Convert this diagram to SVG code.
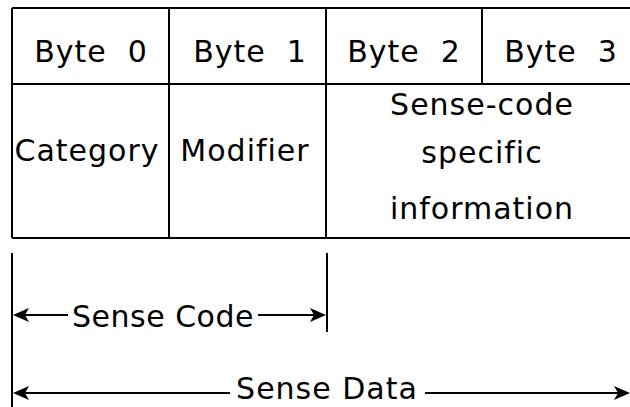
<svg xmlns="http://www.w3.org/2000/svg" width="630" height="407" viewBox="0 0 630 407">
<style>
  .ln{stroke:#000;stroke-width:2;fill:none}
  .ah{fill:#000;stroke:none}
  .t{font-family:"DejaVu Sans","Liberation Sans",sans-serif;font-size:30px;fill:#000;text-anchor:middle;letter-spacing:1px}
  .t2{letter-spacing:0.5px}
</style>
<defs>
  <path id="ahR" class="ah" d="M0,0 L-16,-7 L-12,0 L-16,7 Z"/>
  <path id="ahL" class="ah" d="M0,0 L16,-7 L12,0 L16,7 Z"/>
</defs>
<rect width="630" height="407" fill="#fff"/>
<g id="table">
  <path class="ln" d="M12,8 H640 M12,84 H640 M12,238 H640 M12,8 V238 M169,8 V238 M326,8 V238 M482,8 V84"/>
</g>
<g id="byte0"><text class="t" x="91" y="62" xml:space="preserve">Byte  0</text></g>
<g id="byte1"><text class="t" x="250" y="62" xml:space="preserve">Byte  1</text></g>
<g id="byte2"><text class="t" x="404" y="62" xml:space="preserve">Byte  2</text></g>
<g id="byte3"><text class="t" x="561" y="62" xml:space="preserve">Byte  3</text></g>
<g id="category"><text class="t" x="87" y="161">Category</text></g>
<g id="modifier"><text class="t" x="245" y="161">Modifier</text></g>
<g id="specific">
  <text class="t" x="482" y="115">Sense-code</text>
  <text class="t" x="482" y="163">specific</text>
  <text class="t" x="482" y="219">information</text>
</g>
<g id="connectors">
  <path class="ln" d="M12,253 V407 M327,253 V332"/>
  <path class="ln" d="M68,315 H20 M258,315 H320 M230,393 H20 M425,393 H624"/>
  <use href="#ahL" x="13" y="315"/>
  <use href="#ahR" x="326" y="315"/>
  <use href="#ahL" x="13" y="393"/>
  <use href="#ahR" x="630" y="393"/>
</g>
<g id="sensecode"><text class="t t2" x="163" y="327">Sense Code</text></g>
<g id="sensedata"><text class="t" x="327" y="399">Sense Data</text></g>
</svg>
